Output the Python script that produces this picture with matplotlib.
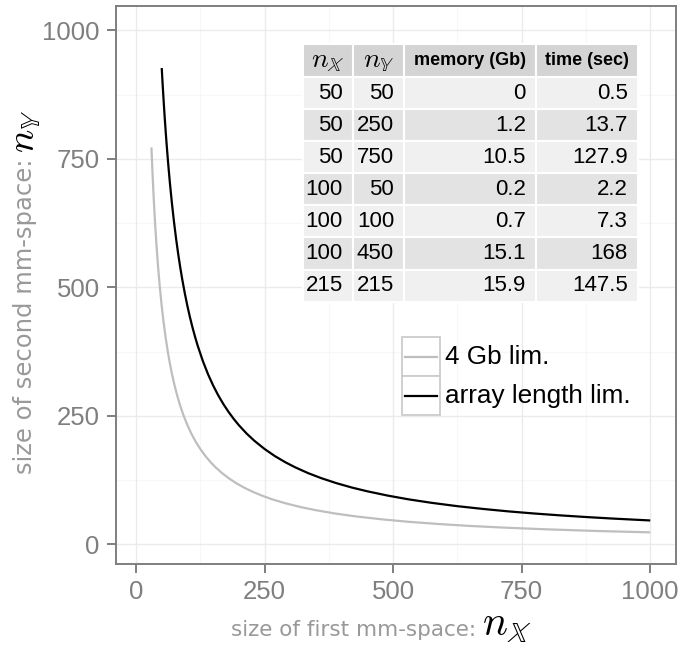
import matplotlib
matplotlib.use('Agg')
import matplotlib.pyplot as plt
from matplotlib.patches import Rectangle
from matplotlib.lines import Line2D

plt.rcParams['mathtext.fontset'] = 'cm'

# 4 Gb memory limit curve
gray_x = [30, 32, 34, 36, 38, 40, 43, 46, 50, 54, 58, 62, 66, 70, 75, 80, 86, 92, 100,
          108, 116, 125, 135, 145, 155, 168, 180, 195, 210, 225, 245, 265, 290, 320, 350,
          390, 430, 480, 530, 590, 650, 720, 800, 900, 1000]
gray_y = [772.3, 724.1, 681.5, 643.6, 609.7, 579.3, 538.8, 503.7, 463.4, 429.1, 399.5,
          373.7, 351.1, 331.0, 308.9, 289.6, 269.4, 251.8, 231.7, 214.5, 199.7, 185.4,
          171.6, 159.8, 149.5, 137.9, 128.7, 118.8, 110.3, 103.0, 94.6, 87.4, 79.9, 72.4,
          66.2, 59.4, 53.9, 48.3, 43.7, 39.3, 35.6, 32.2, 29.0, 25.7, 23.2]

# array length limit curve
black_x = [50, 52, 54, 56, 58, 60, 63, 66, 70, 74, 78, 82, 86, 90, 95, 100, 105, 110,
           115, 120, 130, 140, 150, 160, 170, 180, 190, 200, 215, 230, 250, 270, 290, 310,
           335, 360, 390, 420, 450, 490, 530, 575, 625, 675, 725, 775, 825, 875, 925, 1000]
black_y = [926.8, 891.2, 858.2, 827.5, 799.0, 772.4, 735.6, 702.1, 662.0, 626.2, 594.1,
           565.1, 538.8, 514.9, 487.8, 463.4, 441.3, 421.3, 403.0, 386.2, 356.5, 331.0,
           308.9, 289.6, 272.6, 257.5, 243.9, 231.7, 215.5, 201.5, 185.4, 171.6, 159.8,
           149.5, 138.3, 128.7, 118.8, 110.3, 103.0, 94.6, 87.4, 80.6, 74.1, 68.7, 63.9,
           59.8, 56.2, 53.0, 50.1, 46.3]

# inset table
tab_header = [r'$n_{\mathbb{X}}$', r'$n_{\mathbb{Y}}$', 'memory (Gb)', 'time (sec)']
tab_nx = [50, 50, 50, 100, 100, 100, 215]
tab_ny = [50, 250, 750, 50, 100, 450, 215]
tab_mem = ['0', '1.2', '10.5', '0.2', '0.7', '15.1', '15.9']
tab_time = ['0.5', '13.7', '127.9', '2.2', '7.3', '168', '147.5']

legend_labels = ['4 Gb lim.', 'array length lim.']
ticks = [0, 250, 500, 750, 1000]
minor = [125, 375, 625, 875]

W, H = 681, 645
fig = plt.figure(figsize=(W / 100, H / 100), dpi=100)


def fx(x):
    return x / W


def fy(y):
    return (H - y) / H


ax = fig.add_axes([fx(115.7), fy(564.3), fx(675.7) - fx(115.7), fy(5.7) - fy(564.3)])
ax.set_xlim(-39.5, 1049.5)
ax.set_ylim(-39, 1048)

for v in minor:
    ax.axvline(v, color='#f7f7f7', lw=0.8, zorder=0)
    ax.axhline(v, color='#f7f7f7', lw=0.8, zorder=0)
for v in ticks:
    ax.axvline(v, color='#ebebeb', lw=1.0, zorder=0)
    ax.axhline(v, color='#ebebeb', lw=1.0, zorder=0)

ax.plot(gray_x, gray_y, color='#bebebe', lw=1.6, solid_capstyle='butt', solid_joinstyle='round')
ax.plot(black_x, black_y, color='black', lw=1.6, solid_capstyle='butt', solid_joinstyle='round')

ax.set_xticks(ticks)
ax.set_yticks(ticks)
for s in ax.spines.values():
    s.set_color('#7f7f7f')
    s.set_linewidth(1.4)
ax.tick_params(colors='#7f7f7f', length=6.5, width=1.4, labelsize=18.5, pad=5)
for lab in ax.get_xticklabels() + ax.get_yticklabels():
    lab.set_family('Liberation Sans')

# axis labels: gray text + bigger black math
fig.text(fx(476), fy(636), 'size of first mm-space:', color='#999999', fontsize=15.5,
         ha='right', va='baseline')
fig.text(fx(482), fy(636), r'$n_{\mathbb{X}}$', color='black', fontsize=30,
         ha='left', va='baseline')
fig.text(fx(32), fy(159), 'size of second mm-space:', color='#999999', fontsize=17.5,
         ha='right', va='baseline', rotation=90, rotation_mode='anchor')
fig.text(fx(34), fy(153), r'$n_{\mathbb{Y}}$', color='black', fontsize=28,
         ha='left', va='baseline', rotation=90, rotation_mode='anchor')

# table
col_edges = [303.3, 352.7, 404, 536, 637.7]
top, head_h, row_h = 44, 33, 32.1
rows = list(zip(tab_nx, tab_ny, tab_mem, tab_time))
for j in range(4):
    x0, x1 = col_edges[j], col_edges[j + 1]
    fig.add_artist(Rectangle((fx(x0), fy(top + head_h)), fx(x1) - fx(x0), fy(top) - fy(top + head_h),
                             facecolor='#d4d4d4', edgecolor='white', lw=1.5))
    hdr = tab_header[j]
    if hdr.startswith('$'):
        fig.text(fx((x0 + x1) / 2), fy(top + head_h / 2), hdr, fontsize=20, ha='center', va='center')
    else:
        fig.text(fx((x0 + x1) / 2), fy(top + head_h / 2), hdr, fontsize=13, fontweight='bold',
                 family='Liberation Sans', ha='center', va='center')
for i, row in enumerate(rows):
    y0 = top + head_h + i * row_h
    fc = '#f0f0f0' if i % 2 == 0 else '#e3e3e3'
    for j in range(4):
        x0, x1 = col_edges[j], col_edges[j + 1]
        fig.add_artist(Rectangle((fx(x0), fy(y0 + row_h)), fx(x1) - fx(x0), fy(y0) - fy(y0 + row_h),
                                 facecolor=fc, edgecolor='white', lw=1.5))
        fig.text(fx(x1 - 10), fy(y0 + row_h / 2), str(row[j]), fontsize=16,
                 family='Liberation Sans', ha='right', va='center')

# legend
key_x0, key_x1 = 401.7, 440
key_top, key_h = 337.3, 38.8
for i, (lab, col) in enumerate(zip(legend_labels, ['#bebebe', 'black'])):
    y0 = key_top + i * key_h
    fig.add_artist(Rectangle((fx(key_x0), fy(y0 + key_h)), fx(key_x1) - fx(key_x0), fy(y0) - fy(y0 + key_h),
                             facecolor='white', edgecolor='#cccccc', lw=1.3))
    yc = y0 + key_h / 2
    fig.add_artist(Line2D([fx(key_x0 + 3.5), fx(key_x1 - 3.5)], [fy(yc), fy(yc)], color=col, lw=1.6))
    fig.text(fx(445), fy(yc), lab, fontsize=18.8, family='Liberation Sans', ha='left', va='center')

fig.savefig('out.png', dpi=100)
